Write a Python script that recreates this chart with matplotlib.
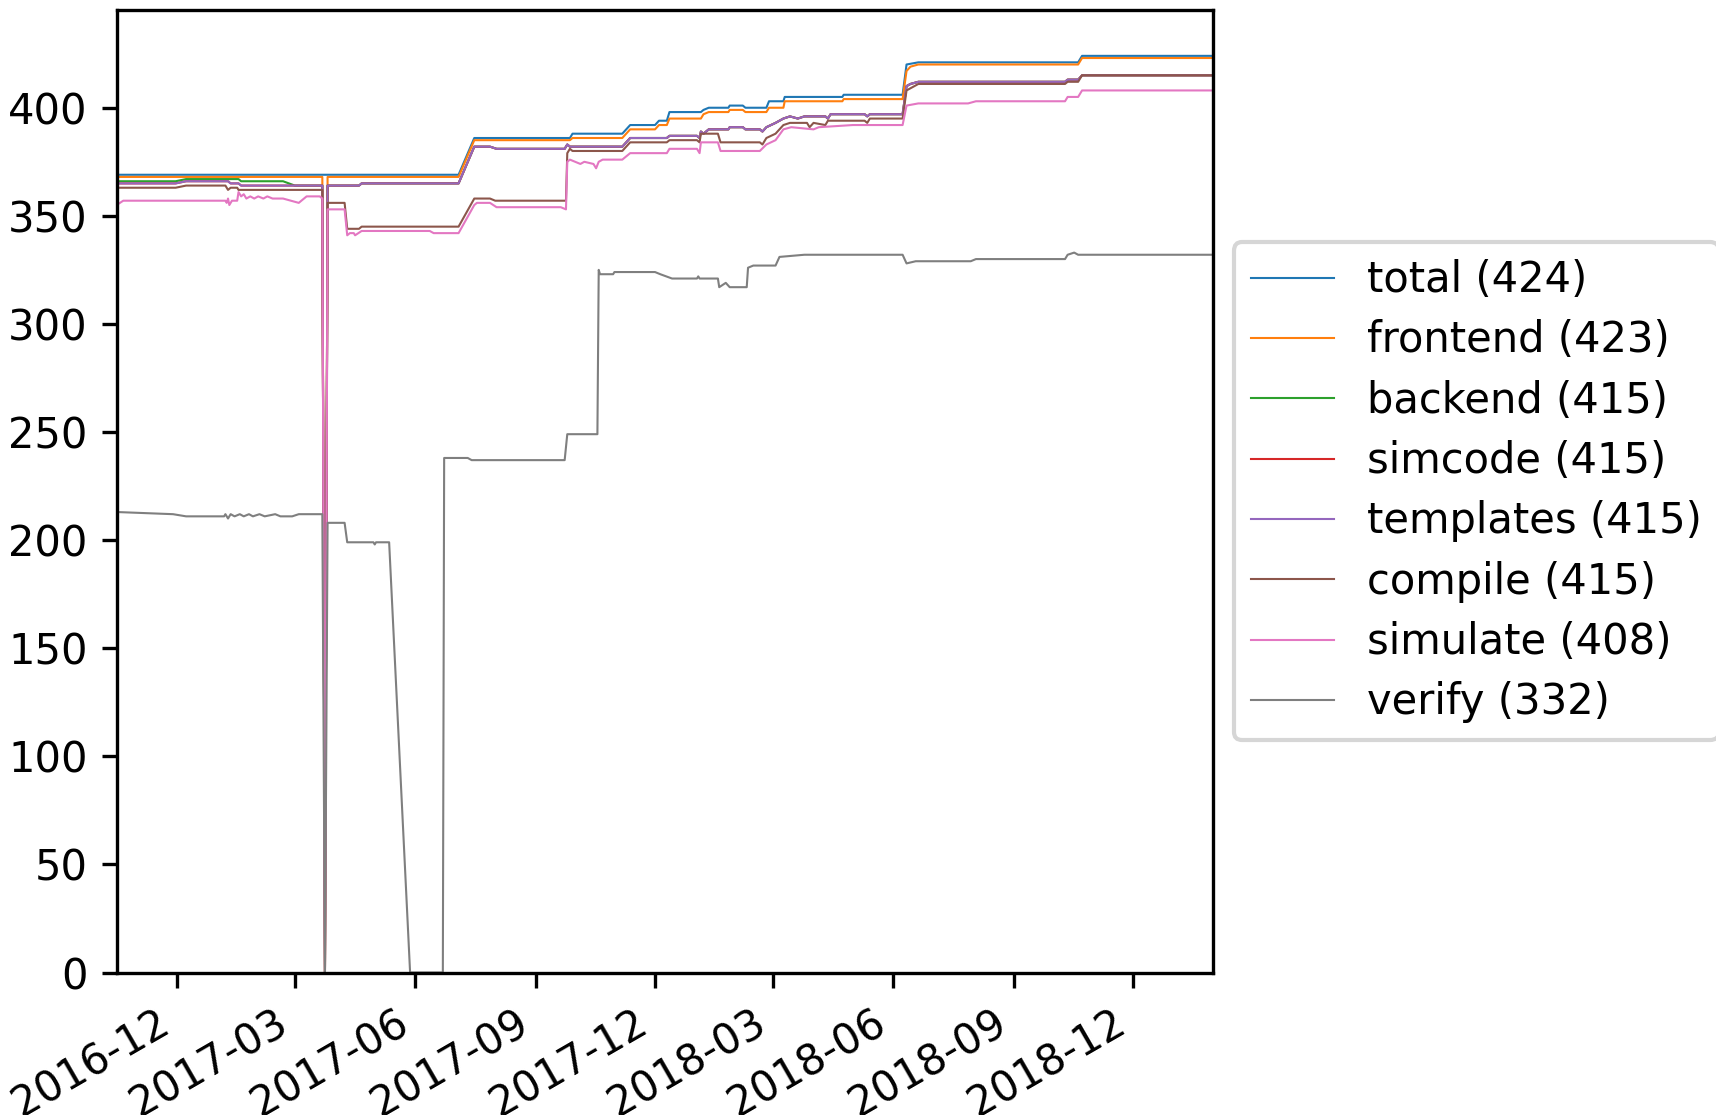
import matplotlib
matplotlib.use('Agg')
import matplotlib.pyplot as plt
import matplotlib.dates as mdates
import pandas as pd

# (date, count) points
total = [
    ('2016-10-16', 369), ('2017-07-04', 369), ('2017-07-16', 386), ('2017-09-27', 386),
    ('2017-09-29', 388), ('2017-11-06', 388), ('2017-11-12', 392), ('2017-12-01', 392),
    ('2017-12-04', 394), ('2017-12-10', 394), ('2017-12-12', 398), ('2018-01-05', 398),
    ('2018-01-07', 399), ('2018-01-11', 400), ('2018-01-26', 400), ('2018-01-27', 401),
    ('2018-02-06', 401), ('2018-02-08', 400), ('2018-02-24', 400), ('2018-02-26', 403),
    ('2018-03-09', 403), ('2018-03-10', 405), ('2018-04-23', 405), ('2018-04-24', 406),
    ('2018-06-08', 406), ('2018-06-11', 420), ('2018-06-20', 421), ('2018-10-20', 421),
    ('2018-10-23', 424), ('2019-01-31', 424),
]

frontend = [
    ('2016-10-16', 368), ('2017-03-22', 368), ('2017-03-24', 0), ('2017-03-26', 368),
    ('2017-07-04', 368), ('2017-07-16', 385), ('2017-09-27', 385), ('2017-09-29', 386),
    ('2017-11-06', 386), ('2017-11-12', 390), ('2017-12-01', 390), ('2017-12-04', 392),
    ('2017-12-10', 392), ('2017-12-12', 395), ('2018-01-05', 395), ('2018-01-07', 397),
    ('2018-01-11', 398), ('2018-01-26', 398), ('2018-01-27', 399), ('2018-02-06', 399),
    ('2018-02-08', 398), ('2018-02-24', 398), ('2018-02-26', 400), ('2018-03-09', 400),
    ('2018-03-10', 403), ('2018-04-23', 403), ('2018-04-24', 404), ('2018-06-08', 404),
    ('2018-06-11', 417), ('2018-06-14', 419), ('2018-06-20', 420), ('2018-10-20', 420),
    ('2018-10-23', 423), ('2019-01-31', 423),
]

templates = [
    ('2016-10-16', 365), ('2016-11-30', 365), ('2016-12-08', 366), ('2017-01-09', 366),
    ('2017-01-11', 365), ('2017-01-17', 365), ('2017-01-19', 364), ('2017-03-22', 364),
    ('2017-03-24', 0), ('2017-03-26', 364), ('2017-04-19', 364), ('2017-04-21', 365),
    ('2017-07-04', 365), ('2017-07-16', 382), ('2017-07-28', 382), ('2017-08-02', 381),
    ('2017-09-23', 381), ('2017-09-25', 383), ('2017-09-27', 382), ('2017-11-06', 382),
    ('2017-11-12', 386), ('2017-12-10', 386), ('2017-12-12', 387), ('2018-01-02', 387),
    ('2018-01-04', 386), ('2018-01-05', 389), ('2018-01-07', 388), ('2018-01-11', 390),
    ('2018-01-26', 390), ('2018-01-27', 391), ('2018-02-06', 391), ('2018-02-08', 390),
    ('2018-02-19', 390), ('2018-02-21', 389), ('2018-02-24', 391), ('2018-03-03', 393),
    ('2018-03-09', 395), ('2018-03-14', 396), ('2018-03-20', 395), ('2018-03-25', 396),
    ('2018-04-10', 396), ('2018-04-12', 395), ('2018-04-14', 397), ('2018-05-10', 397),
    ('2018-05-12', 396), ('2018-05-14', 397), ('2018-06-08', 397), ('2018-06-11', 410),
    ('2018-06-14', 411), ('2018-06-20', 412), ('2018-10-10', 412), ('2018-10-12', 413),
    ('2018-10-20', 413), ('2018-10-23', 415), ('2019-01-31', 415),
]

# backend and simcode sit under templates after March 2017
backend = [
    ('2016-10-16', 366), ('2016-11-30', 366), ('2016-12-08', 367), ('2017-01-17', 367),
    ('2017-01-19', 366), ('2017-02-20', 366), ('2017-03-01', 364),
] + [p for p in templates if p[0] > '2017-03-01']

simcode = list(templates)

compile_ = [
    ('2016-10-16', 363), ('2016-11-30', 363), ('2016-12-08', 364), ('2017-01-07', 364),
    ('2017-01-09', 362), ('2017-01-11', 363), ('2017-01-16', 363), ('2017-01-17', 362),
    ('2017-03-22', 362), ('2017-03-24', 0), ('2017-03-26', 356), ('2017-04-08', 356),
    ('2017-04-10', 344), ('2017-04-19', 344), ('2017-04-21', 345), ('2017-07-04', 345),
    ('2017-07-16', 358), ('2017-07-28', 358), ('2017-08-01', 357), ('2017-09-24', 357),
    ('2017-09-25', 379), ('2017-09-27', 381), ('2017-09-29', 380), ('2017-11-06', 380),
    ('2017-11-12', 384), ('2017-12-10', 384), ('2017-12-12', 385), ('2018-01-02', 385),
    ('2018-01-04', 384), ('2018-01-05', 388), ('2018-01-18', 388), ('2018-01-20', 384),
    ('2018-02-19', 384), ('2018-02-21', 383), ('2018-02-24', 386), ('2018-03-03', 388),
    ('2018-03-09', 392), ('2018-03-14', 393), ('2018-03-27', 393), ('2018-03-29', 391),
    ('2018-04-01', 393), ('2018-04-10', 392), ('2018-04-12', 394), ('2018-05-10', 394),
    ('2018-05-12', 393), ('2018-05-14', 395), ('2018-06-08', 395), ('2018-06-11', 408),
    ('2018-06-14', 409), ('2018-06-20', 411), ('2018-10-10', 411), ('2018-10-12', 412),
    ('2018-10-20', 412), ('2018-10-23', 415), ('2019-01-31', 415),
]

simulate = [
    ('2016-10-16', 355), ('2016-10-21', 357), ('2017-01-07', 357), ('2017-01-08', 356),
    ('2017-01-09', 358), ('2017-01-10', 355), ('2017-01-12', 357), ('2017-01-16', 357),
    ('2017-01-17', 361), ('2017-01-19', 359), ('2017-01-21', 360), ('2017-01-23', 358),
    ('2017-01-26', 359), ('2017-01-29', 358), ('2017-02-01', 359), ('2017-02-05', 358),
    ('2017-02-08', 359), ('2017-02-12', 358), ('2017-02-20', 358), ('2017-03-04', 356),
    ('2017-03-10', 359), ('2017-03-20', 359), ('2017-03-22', 358), ('2017-03-24', 0),
    ('2017-03-26', 353), ('2017-04-08', 353), ('2017-04-10', 341), ('2017-04-12', 342),
    ('2017-04-15', 342), ('2017-04-16', 341), ('2017-04-21', 343), ('2017-06-12', 343),
    ('2017-06-15', 342), ('2017-07-04', 342), ('2017-07-16', 355), ('2017-07-18', 356),
    ('2017-07-28', 356), ('2017-08-02', 354), ('2017-09-20', 354), ('2017-09-24', 353),
    ('2017-09-25', 375), ('2017-09-27', 376), ('2017-10-05', 374), ('2017-10-08', 375),
    ('2017-10-15', 374), ('2017-10-17', 372), ('2017-10-19', 375), ('2017-10-22', 376),
    ('2017-11-06', 376), ('2017-11-12', 379), ('2017-12-10', 379), ('2017-12-12', 381),
    ('2018-01-02', 381), ('2018-01-04', 379), ('2018-01-05', 384), ('2018-01-18', 384),
    ('2018-01-20', 380), ('2018-02-19', 380), ('2018-02-24', 383), ('2018-03-03', 385),
    ('2018-03-09', 390), ('2018-03-15', 391), ('2018-04-01', 390), ('2018-04-05', 391),
    ('2018-05-01', 392), ('2018-06-08', 392), ('2018-06-11', 401), ('2018-06-20', 402),
    ('2018-07-28', 402), ('2018-08-03', 403), ('2018-10-10', 403), ('2018-10-12', 405),
    ('2018-10-20', 405), ('2018-10-23', 408), ('2019-01-31', 408),
]

verify = [
    ('2016-10-16', 213), ('2016-11-28', 212), ('2016-12-08', 211), ('2017-01-06', 211),
    ('2017-01-07', 212), ('2017-01-09', 210), ('2017-01-11', 212), ('2017-01-14', 211),
    ('2017-01-18', 212), ('2017-01-21', 211), ('2017-01-25', 212), ('2017-01-28', 211),
    ('2017-02-02', 212), ('2017-02-06', 211), ('2017-02-14', 212), ('2017-02-18', 211),
    ('2017-02-27', 211), ('2017-03-04', 212), ('2017-03-22', 212), ('2017-03-24', 0),
    ('2017-03-26', 208), ('2017-04-08', 208), ('2017-04-10', 199), ('2017-04-30', 199),
    ('2017-05-01', 198), ('2017-05-02', 199), ('2017-05-12', 199), ('2017-05-28', 0),
    ('2017-06-22', 0), ('2017-06-23', 238), ('2017-07-11', 238), ('2017-07-14', 237),
    ('2017-09-23', 237), ('2017-09-25', 249), ('2017-10-18', 249), ('2017-10-19', 325),
    ('2017-10-20', 323), ('2017-10-30', 323), ('2017-10-31', 324), ('2017-12-01', 324),
    ('2017-12-05', 323), ('2017-12-14', 321), ('2018-01-02', 321), ('2018-01-03', 322),
    ('2018-01-04', 321), ('2018-01-18', 321), ('2018-01-19', 317), ('2018-01-24', 319),
    ('2018-01-27', 317), ('2018-02-09', 317), ('2018-02-10', 326), ('2018-02-14', 327),
    ('2018-03-03', 327), ('2018-03-06', 331), ('2018-03-25', 332), ('2018-06-08', 332),
    ('2018-06-11', 328), ('2018-06-18', 329), ('2018-07-30', 329), ('2018-08-03', 330),
    ('2018-10-10', 330), ('2018-10-12', 332), ('2018-10-17', 333), ('2018-10-20', 332),
    ('2019-01-31', 332),
]

labels = ['total (424)', 'frontend (423)', 'backend (415)', 'simcode (415)',
          'templates (415)', 'compile (415)', 'simulate (408)', 'verify (332)']
series = [total, frontend, backend, simcode, templates, compile_, simulate, verify]

fig, ax = plt.subplots(figsize=(5.72, 3.7167), dpi=300)
fig.subplots_adjust(left=0.068, right=0.7069, bottom=0.1278, top=0.991)

for pts, lab in zip(series, labels):
    d = pd.to_datetime([p[0] for p in pts])
    v = [p[1] for p in pts]
    ax.plot(d, v, lw=0.5, label=lab)

ax.set_xlim(pd.Timestamp(total[0][0]), pd.Timestamp(total[-1][0]))
ax.set_ylim(bottom=0)

ax.xaxis.set_major_locator(mdates.MonthLocator(bymonth=(3, 6, 9, 12)))
ax.xaxis.set_major_formatter(mdates.DateFormatter('%Y-%m'))
for t in ax.get_xticklabels():
    t.set_rotation(30)
    t.set_ha('right')

ax.legend(loc='center left', bbox_to_anchor=(1.0, 0.5), labelspacing=0.44)

plt.savefig('out.png', dpi=300)
